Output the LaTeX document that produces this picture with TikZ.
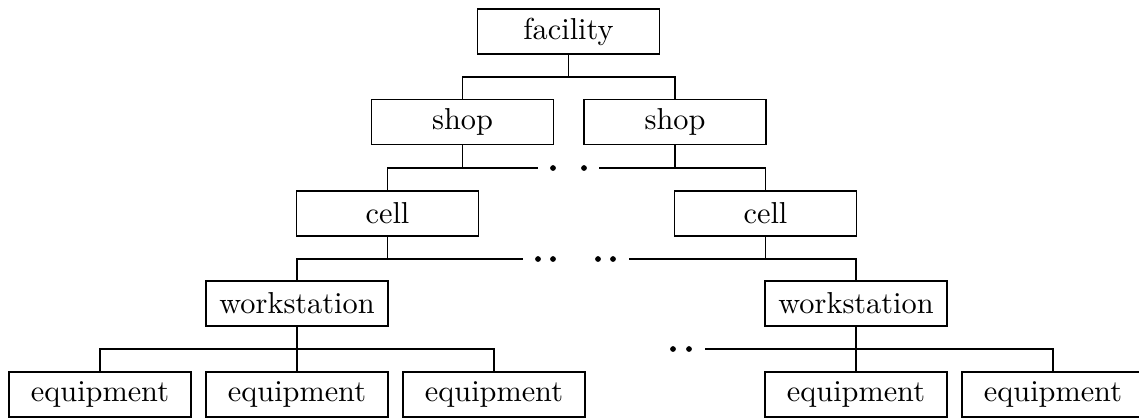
\documentclass[tikz,border=0pt]{standalone}
\begin{document}
\begin{tikzpicture}[x=0.33pt,y=-0.33pt,
  unit/.style={draw,line width=0.45pt,minimum width=60pt,minimum height=14.85pt,inner sep=0pt},
  ellipsisdot/.style={circle,fill,inner sep=0pt,minimum size=1.9pt},
  link/.style={line width=0.45pt}]
\useasboundingbox (0,0) rectangle (1139,417);

% hierarchy levels
\node[unit] (fac)  at (568.5,31.5) {facility};
\node[unit] (shopL) at (462.5,122) {shop};
\node[unit] (shopR) at (675,122)   {shop};
\node[unit] (cellL) at (387.5,213.5) {cell};
\node[unit] (cellR) at (765.5,213.5) {cell};
\node[unit] (wsL) at (297,303.5) {workstation};
\node[unit] (wsR) at (856,303.5) {workstation};
\node[unit] (eqL1) at (100,394.5)  {equipment};
\node[unit] (eqL2) at (297,394.5)  {equipment};
\node[unit] (eqL3) at (494,394.5)  {equipment};
\node[unit] (eqR1) at (856,394.5)  {equipment};
\node[unit] (eqR2) at (1053,394.5) {equipment};

% facility -> shops
\coordinate (b1) at (568.5,77);
\draw[link] (fac.south) -- (b1);
\draw[link] (shopL.north) |- (b1) -| (shopR.north);

% shops -> cells (with elided branches)
\coordinate (a2) at (538,168);
\coordinate (c2) at (599,168);
\node[ellipsisdot] (e21) at (553,168) {};
\node[ellipsisdot] (e22) at (584,168) {};
\draw[link] (cellL.north) |- (a2);
\draw[link] (shopL.south) -- (shopL.south |- a2);
\draw[link] (c2) -| (cellR.north);
\draw[link] (shopR.south) -- (shopR.south |- c2);

% cells -> workstations
\coordinate (a3) at (523,259);
\coordinate (c3) at (629,259);
\node[ellipsisdot] (e31) at (538,259) {};
\node[ellipsisdot] (e32) at (553,259) {};
\node[ellipsisdot] (e33) at (598,259) {};
\node[ellipsisdot] (e34) at (613,259) {};
\draw[link] (wsL.north) |- (a3);
\draw[link] (cellL.south) -- (cellL.south |- a3);
\draw[link] (c3) -| (wsR.north);
\draw[link] (cellR.south) -- (cellR.south |- c3);

% workstations -> equipment
\coordinate (b4) at (297,349);
\draw[link] (wsL.south) -- (eqL2.north);
\draw[link] (eqL1.north) |- (b4) -| (eqL3.north);
\coordinate (c4) at (705,349);
\node[ellipsisdot] (e41) at (673,349) {};
\node[ellipsisdot] (e42) at (689,349) {};
\draw[link] (wsR.south) -- (eqR1.north);
\draw[link] (c4) -| (eqR2.north);
\end{tikzpicture}
\end{document}
